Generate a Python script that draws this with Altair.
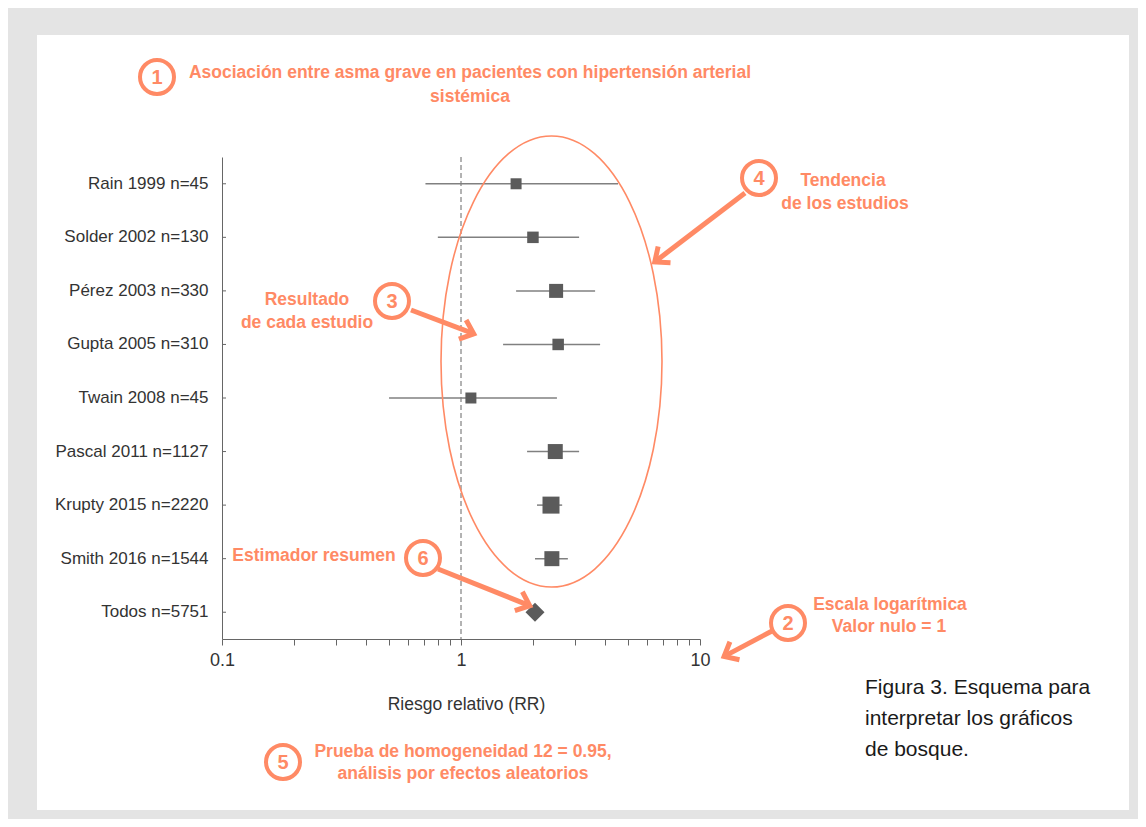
import math
import altair as alt
import pandas as pd

# ---------------- data ----------------
estudios = ["Rain 1999 n=45", "Solder 2002 n=130", "Pérez 2003 n=330", "Gupta 2005 n=310",
            "Twain 2008 n=45", "Pascal 2011 n=1127", "Krupty 2015 n=2220", "Smith 2016 n=1544",
            "Todos n=5751"]
rr = [1.70, 2.00, 2.50, 2.55, 1.10, 2.48, 2.38, 2.40]
ic_inf = [0.71, 0.80, 1.70, 1.50, 0.50, 1.89, 2.08, 2.04]
ic_sup = [4.54, 3.12, 3.64, 3.82, 2.52, 3.12, 2.65, 2.80]
peso = [11, 11.5, 14, 11.5, 11, 15, 17, 15]
rr_total = 2.04
x_ticks = [0.1, 0.2, 0.3, 0.4, 0.5, 0.6, 0.7, 0.8, 0.9,
           1, 2, 3, 4, 5, 6, 7, 8, 9, 10]

df = pd.DataFrame({"estudio": estudios[:8], "rr": rr, "lo": ic_inf, "hi": ic_sup, "peso": peso})
df_tot = pd.DataFrame({"estudio": [estudios[8]], "rr": [rr_total]})
df_all = pd.DataFrame({"estudio": estudios})
one = pd.DataFrame({"k": [0]})

# ---------------- style ----------------
ORANGE = "#ff8a65"
DARK = "#5b5b5b"
LINE = "#808080"
AX = "#666666"
FONT_N = "Liberation Sans Narrow, Arial Narrow, Liberation Sans, Arial, sans-serif"
FONT = "Liberation Sans, Arial, sans-serif"
OX, OY = 222, 157          # page position of plot origin
W, H = 478, 482
CW, CH = 1130, 811         # canvas size (fits the window with the 8px page margin)

xs = alt.Scale(type="log", domain=[0.1, 10])
ys = alt.Scale(domain=estudios)

def P(x, y):
    return dict(x=alt.value(x - OX), y=alt.value(y - OY))

def txt(s, x, y, size=17.5, color=ORANGE, weight="bold", align="center", font=FONT_N):
    return alt.Chart(one).mark_text(text=s, fontSize=size, color=color, fontWeight=weight,
                                    align=align, baseline="middle", font=font).encode(**P(x, y))

def circ(x, y, n):
    c = alt.Chart(one).mark_point(shape="circle", size=34 ** 2, filled=False, color=ORANGE,
                                  strokeWidth=4, opacity=1).encode(**P(x, y))
    t = txt(str(n), x, y + 1, size=20, weight="bold")
    return [c, t]

CHEV = "M-1,-0.85L0,0L-1,0.85"

def arrow(sx, sy, tx, ty):
    dx, dy = tx - sx, ty - sy
    L = math.hypot(dx, dy)
    ux, uy = dx / L, dy / L
    ex, ey = tx - 3 * ux, ty - 3 * uy
    ang = math.degrees(math.atan2(dy, dx)) % 360
    shaft = alt.Chart(one).mark_rule(color=ORANGE, strokeWidth=5).encode(
        x=alt.value(sx - OX), y=alt.value(sy - OY), x2=alt.value(ex - OX), y2=alt.value(ey - OY))
    head = alt.Chart(one).mark_point(shape=CHEV, size=24 ** 2, angle=ang, filled=False, color=ORANGE,
                                     strokeWidth=5, opacity=1, strokeJoin="miter").encode(
        x=alt.value(tx - 3.5 * ux - OX), y=alt.value(ty - 3.5 * uy - OY))
    return [shaft, head]

# ---------------- layers ----------------
panel = alt.Chart(one).mark_rect(color="white").encode(
    x=alt.value(37 - OX), x2=alt.value(1129 - OX), y=alt.value(35 - OY), y2=alt.value(810 - OY))

x_axis = alt.Axis(values=x_ticks, labelExpr="datum.value == 0.1 ? '0.1' : datum.value == 1 ? '1' : datum.value == 10 ? '10' : ''",
                  tickSize=6, tickColor=AX, domainColor=AX, labelFontSize=18, labelColor="#333",
                  labelFont=FONT_N, labelPadding=6, labelFlush=False, labelOverlap=False, grid=False,
                  title="Riesgo relativo (RR)", titleFontSize=17.5, titleFontWeight="normal",
                  titleColor="#333", titleFont=FONT_N, titlePadding=26, titleX=244, zindex=1)
y_axis = alt.Axis(title=None, ticks=False, tickSize=0, domainColor=AX, labelFontSize=17,
                  labelColor="#333", labelFont=FONT_N, labelPadding=14, grid=False, zindex=1)

null_line = alt.Chart(one).mark_rule(color=AX, strokeDash=[5, 3], strokeWidth=1).encode(
    x=alt.datum(1, scale=xs, axis=x_axis, type="quantitative"))

yticks = alt.Chart(df_all).mark_rule(color=AX, strokeWidth=1).encode(
    y=alt.Y("estudio:N", scale=ys, sort=None, axis=y_axis),
    x=alt.value(0), x2=alt.value(4))

ci = alt.Chart(df).mark_rule(color=LINE, strokeWidth=1.5).encode(
    x=alt.X("lo:Q", scale=xs, axis=x_axis), x2="hi:Q",
    y=alt.Y("estudio:N", scale=ys, sort=None, axis=y_axis))

squares = alt.Chart(df).mark_square(color=DARK, opacity=1).encode(
    x=alt.X("rr:Q", scale=xs, axis=x_axis),
    y=alt.Y("estudio:N", scale=ys, sort=None, axis=y_axis),
    size=alt.Size("peso:Q", scale=alt.Scale(type="pow", exponent=2, domain=[0, 17], range=[0, 289]), legend=None))

diamond = alt.Chart(df_tot).mark_point(shape="diamond", filled=True, size=361, color=DARK, opacity=1).encode(
    x=alt.X("rr:Q", scale=xs, axis=x_axis),
    y=alt.Y("estudio:N", scale=ys, sort=None, axis=y_axis))

ELLIPSE = "M-0.49,0A0.49,1,0,1,0,0.49,0A0.49,1,0,1,0,-0.49,0Z"
ellipse = alt.Chart(one).mark_point(shape=ELLIPSE, size=451 ** 2, filled=False, color=ORANGE,
                                    strokeWidth=1.6, opacity=1).encode(**P(551.5, 361.5))

layers = [panel, null_line, yticks, ci, squares, diamond, ellipse]

# titles and notes
layers += [txt("Asociación entre asma grave en pacientes con hipertensión arterial", 470, 73),
           txt("sistémica", 470, 97)]
layers += circ(157, 77, 1)
layers += circ(788, 623, 2) + arrow(772, 631, 721, 658)
layers += [txt("Escala logarítmica", 890, 605), txt("Valor nulo = 1", 889, 627)]
layers += circ(392, 301, 3) + arrow(411, 310, 477, 335)
layers += [txt("Resultado", 307, 300), txt("de cada estudio", 307, 323)]
layers += circ(759, 178, 4) + arrow(745, 193, 652, 264)
layers += [txt("Tendencia", 843, 181), txt("de los estudios", 845, 204)]
layers += circ(283, 762, 5)
layers += [txt("Prueba de homogeneidad 12 = 0.95,", 463, 752), txt("análisis por efectos aleatorios", 463, 774)]
layers += circ(423, 558, 6) + arrow(438, 569, 533, 607)
layers += [txt("Estimador resumen", 314, 556)]
layers += [txt("Figura 3. Esquema para", 865, 688, size=21, color="#1a1a1a", weight="normal", align="left", font=FONT),
           txt("interpretar los gráficos", 865, 719, size=21, color="#1a1a1a", weight="normal", align="left", font=FONT),
           txt("de bosque.", 865, 750, size=21, color="#1a1a1a", weight="normal", align="left", font=FONT)]

chart = alt.layer(*layers).properties(
    width=W, height=H,
    autosize=alt.AutoSizeParams(type="none"),
    padding={"left": OX - 8, "top": OY - 8, "right": CW - (OX - 8) - W, "bottom": CH - (OY - 8) - H},
    background="#e4e4e4",
).configure_view(stroke=None)

chart.save("out.html", embed_options={"renderer": "svg", "actions": False})
